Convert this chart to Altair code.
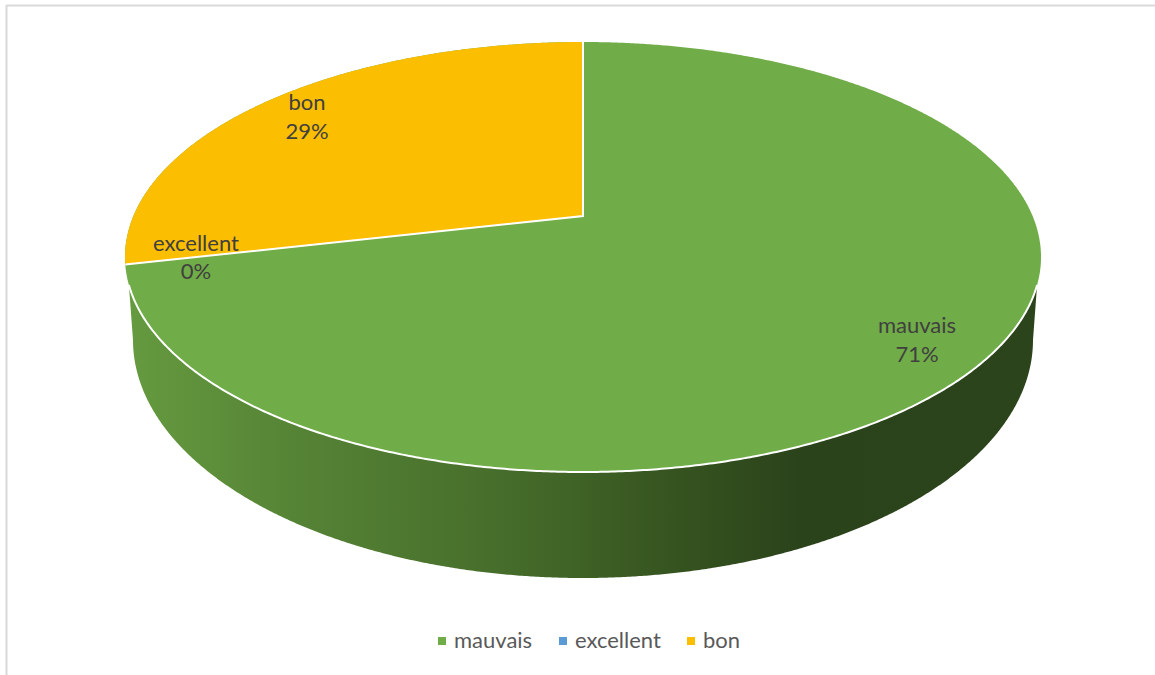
import altair as alt
import numpy as np
import pandas as pd

# Survey shares, in slice order clockwise from twelve o'clock
categories = ["mauvais", "excellent", "bon"]
shares = [71.4, 0.0, 28.6]
slice_colors = ["#70ac47", "#5b9bd5", "#fcbe00"]

# Anchors of the data labels, one entry per slice
label_x = [917, 196, 307]
label_name_y = [326, 244, 103]
label_pct_y = [355, 272, 132]

W, H = 1155, 675

# Top face of the tilted pie: an ellipse, whose hub sits above its middle
CX, CY, RX, RY = 583.0, 257.0, 458.0, 215.0
HUB_Y = 216.0
# Rim of the base, seen through the same tilt
BASE_CY, BASE_RX, BASE_RY = 340.0, 450.0, 238.0
WALL_START_Y = 285.0

# Perspective constants derived from the hub offset
far = CY - RY
near = CY + RY
tilt = ((near - HUB_Y) - (HUB_Y - far)) / ((near - HUB_Y) + (HUB_Y - far))
depth = (HUB_Y - far) * (1 + tilt)
span = RX * np.sqrt(1 - tilt ** 2)


def rim_point(fraction):
    """Screen position of the rim point at a fraction of a clockwise turn."""
    a = 2 * np.pi * fraction
    px, py = np.sin(a), np.cos(a)
    w = 1 + tilt * py
    return CX + span * px / w, HUB_Y - depth * py / w


def face_upper(x):
    return CY - RY * np.sqrt(np.clip(1 - ((x - CX) / RX) ** 2, 0, 1))


def face_lower(x):
    return CY + RY * np.sqrt(np.clip(1 - ((x - CX) / RX) ** 2, 0, 1))


turn = np.cumsum(shares) / np.sum(shares)
t = np.linspace(0, np.pi, 601)
xs_face = CX - RX * np.cos(t)

# Whole face, painted in the colour of the largest slice
face = pd.DataFrame({"x": xs_face, "y": face_upper(xs_face), "y2": face_lower(xs_face)})

# "bon" slice, from the "excellent" boundary round to twelve o'clock
bx, by = rim_point(turn[1])
xs_bon = CX - RX * np.cos(np.linspace(0, np.pi / 2, 301))
line_y = by + (HUB_Y - by) * (xs_bon - bx) / (CX - bx)
bon = pd.DataFrame({
    "x": xs_bon,
    "y": face_upper(xs_bon),
    "y2": np.where(xs_bon < bx, face_lower(xs_bon), line_y),
})

# Visible outer wall, between the lower rim of the face and the base rim
dx = np.sqrt(RX ** 2 * (1 - ((WALL_START_Y - CY) / RY) ** 2))
xs_wall = np.concatenate([
    [CX - dx, CX - BASE_RX],
    CX - BASE_RX * np.cos(np.linspace(0, np.pi, 601))[1:-1],
    [CX + BASE_RX, CX + dx],
])
wall_low = BASE_CY + BASE_RY * np.sqrt(np.clip(1 - ((xs_wall - CX) / BASE_RX) ** 2, 0, 1))
wall_low[0] = wall_low[-1] = WALL_START_Y
wall = pd.DataFrame({"x": xs_wall, "y": face_lower(xs_wall), "y2": wall_low})

# White seams: front rim of the face and the two slice boundaries
xs_seam = CX - dx * np.cos(np.linspace(0, np.pi, 401))
rim_seam = pd.DataFrame({"x": xs_seam, "y": face_lower(xs_seam), "o": np.arange(401)})
spoke_seam = pd.DataFrame({"x": [bx, CX, CX], "y": [by, HUB_Y, far], "o": [0, 1, 2]})

x_scale = alt.Scale(domain=[0, W], range=[0, W], nice=False, zero=False)
y_scale = alt.Scale(domain=[H, 0], range=[H, 0], nice=False, zero=False)
X = alt.X("x:Q", scale=x_scale, axis=None)
Y = alt.Y("y:Q", scale=y_scale, axis=None)

wall_stops = [
    (130, "#659a3f"),
    (300, "#558335"),
    (480, "#48702c"),
    (680, "#35531f"),
    (800, "#2b431b"),
    (1037, "#2c441b"),
]
x0, x1 = wall["x"].min(), wall["x"].max()
wall_fill = alt.Gradient(
    gradient="linear",
    x1=0, x2=1, y1=0, y2=0,
    stops=[
        alt.GradientStop(offset=float(np.clip((p - x0) / (x1 - x0), 0, 1)), color=c)
        for p, c in wall_stops
    ],
)


def area_layer(df, fill):
    return alt.Chart(df).mark_area(color=fill, orient="vertical", opacity=1).encode(
        x=X, y=Y, y2=alt.Y2("y2:Q")
    )


def seam_layer(df):
    return alt.Chart(df).mark_line(color="white", strokeWidth=2, interpolate="linear").encode(
        x=X, y=Y, order="o:Q"
    )


# Legend carrier: one swatch per category, tucked behind the face
legend_df = pd.DataFrame({
    "category": categories,
    "x": [CX] * 3,
    "y": [CY] * 3,
})
legend_layer = alt.Chart(legend_df).mark_point(filled=True, shape="square", opacity=1, size=4).encode(
    x=X,
    y=Y,
    color=alt.Color(
        "category:N",
        sort=categories,
        scale=alt.Scale(domain=categories, range=slice_colors),
        legend=alt.Legend(
            orient="none",
            legendX=431,
            legendY=630,
            direction="horizontal",
            columns=3,
            title=None,
            symbolType="square",
            symbolSize=64,
            symbolStrokeWidth=0,
            symbolOpacity=1,
            labelFont="Lato",
            labelFontSize=22,
            labelColor="#595959",
            labelOffset=1,
            columnPadding=19,
        ),
    ),
)

labels = pd.DataFrame({
    "x": label_x * 2,
    "y": label_name_y + label_pct_y,
    "text": categories + [f"{round(s)}%" for s in shares],
})
label_layer = alt.Chart(labels).mark_text(
    font="Lato", fontSize=22, color="#404040", align="center", baseline="middle"
).encode(x=X, y=Y, text="text:N")

frame_left = alt.Chart(pd.DataFrame({"k": [0]})).mark_rule(color="#d9d9d9", strokeWidth=2).encode(
    x=alt.value(6.5), y=alt.value(5), y2=alt.value(H)
)
frame_top = alt.Chart(pd.DataFrame({"k": [0]})).mark_rule(color="#d9d9d9", strokeWidth=2).encode(
    x=alt.value(6), x2=alt.value(W), y=alt.value(5.5)
)

chart = alt.layer(
    frame_left,
    frame_top,
    legend_layer,
    area_layer(wall, wall_fill),
    area_layer(face, slice_colors[0]),
    area_layer(bon, slice_colors[2]),
    seam_layer(rim_seam),
    seam_layer(spoke_seam),
    label_layer,
).properties(
    width=W,
    height=H,
    padding=0,
    autosize=alt.AutoSizeParams(type="none"),
    background="white",
).configure_view(stroke=None)

chart.save("out.html", embed_options={"renderer": "svg", "actions": False})
